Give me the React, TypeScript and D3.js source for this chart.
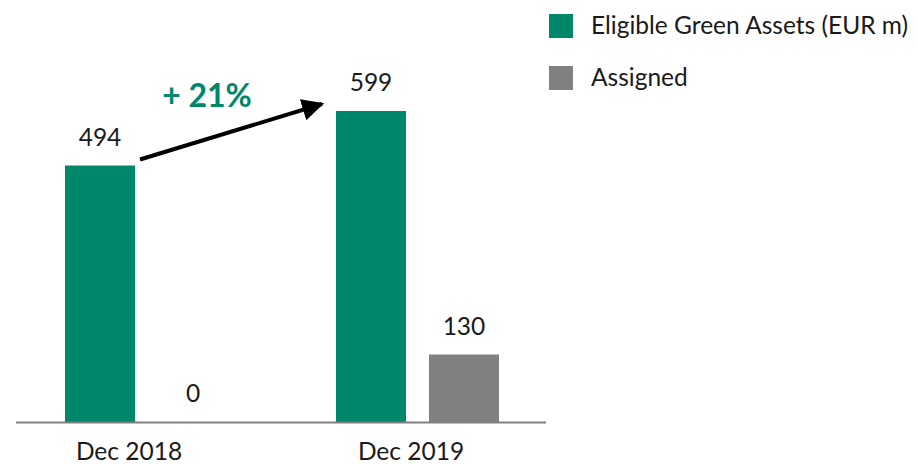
import React from "react";
import * as d3 from "d3";

const categories = ["Dec 2018", "Dec 2019"];
const seriesNames = ["Eligible Green Assets (EUR m)", "Assigned"];
const eligible = [494, 599];
const assigned = [0, 130];
const growthLabel = "+ 21%";

const GREEN = "#00876a";
const GRAY = "#808080";
const TEXT = "#1a1a1a";
const FONT = "Lato, 'Open Sans', sans-serif";

export default function App() {
  const W = 917, H = 464;
  const baseY = 422;
  const y = d3.scaleLinear().domain([0, 599]).range([baseY, 111]);
  const groupX = d3.scalePoint().domain(categories).range([65, 336]);
  const x1 = d3.scaleBand().domain(seriesNames).range([0, 163]).paddingInner(0.247);
  const colors = [GREEN, GRAY];
  const data = [eligible, assigned];
  const labelX = d3.scalePoint().domain(categories).range([129, 411]);

  const g0 = groupX(categories[0])! + x1(seriesNames[0])! + x1.bandwidth();
  const g1 = groupX(categories[1])! + x1(seriesNames[0])!;

  return (
    <svg width={W} height={H} style={{ position: "absolute", left: 0, top: 0 }}>
      <defs>
        <marker id="ah" viewBox="0 0 10 10" refX="9" refY="5" markerWidth="5.5" markerHeight="5.5" orient="auto" markerUnits="strokeWidth">
          <path d="M0,0 L10,5 L0,10 z" fill="#000" />
        </marker>
      </defs>
      {categories.map((c, ci) =>
        seriesNames.map((s, si) => {
          const v = data[si][ci];
          const bx = groupX(c)! + x1(s)!;
          const by = y(v);
          return (
            <g key={c + s}>
              {v > 0 && (
                <rect x={bx} y={by} width={x1.bandwidth()} height={baseY - by} fill={colors[si]} />
              )}
              <text x={bx + x1.bandwidth() / 2} y={by - 20} textAnchor="middle" fontFamily={FONT} fontSize={24.5} fill={TEXT}>
                {v}
              </text>
            </g>
          );
        })
      )}
      <line x1={16} x2={546} y1={baseY + 0.5} y2={baseY + 0.5} stroke={GRAY} strokeWidth={2} />
      {categories.map((c) => (
        <text key={c} x={labelX(c)} y={460} textAnchor="middle" fontFamily={FONT} fontSize={24.5} fill={TEXT}>
          {c}
        </text>
      ))}
      <line x1={g0 + 5} y1={y(eligible[0]) - 6} x2={g1 - 14} y2={y(eligible[1]) - 7} stroke="#000" strokeWidth={4} markerEnd="url(#ah)" />
      <text x={207} y={107} textAnchor="middle" fontFamily={FONT} fontWeight="bold" fontSize={32} fill={GREEN}>
        {growthLabel}
      </text>
      {seriesNames.map((s, i) => (
        <g key={s} transform={`translate(549, ${14 + i * 52})`}>
          <rect width={24} height={24} fill={colors[i]} />
          <text x={42} y={20} fontFamily={FONT} fontSize={24.5} fill={TEXT}>
            {s}
          </text>
        </g>
      ))}
    </svg>
  );
}
